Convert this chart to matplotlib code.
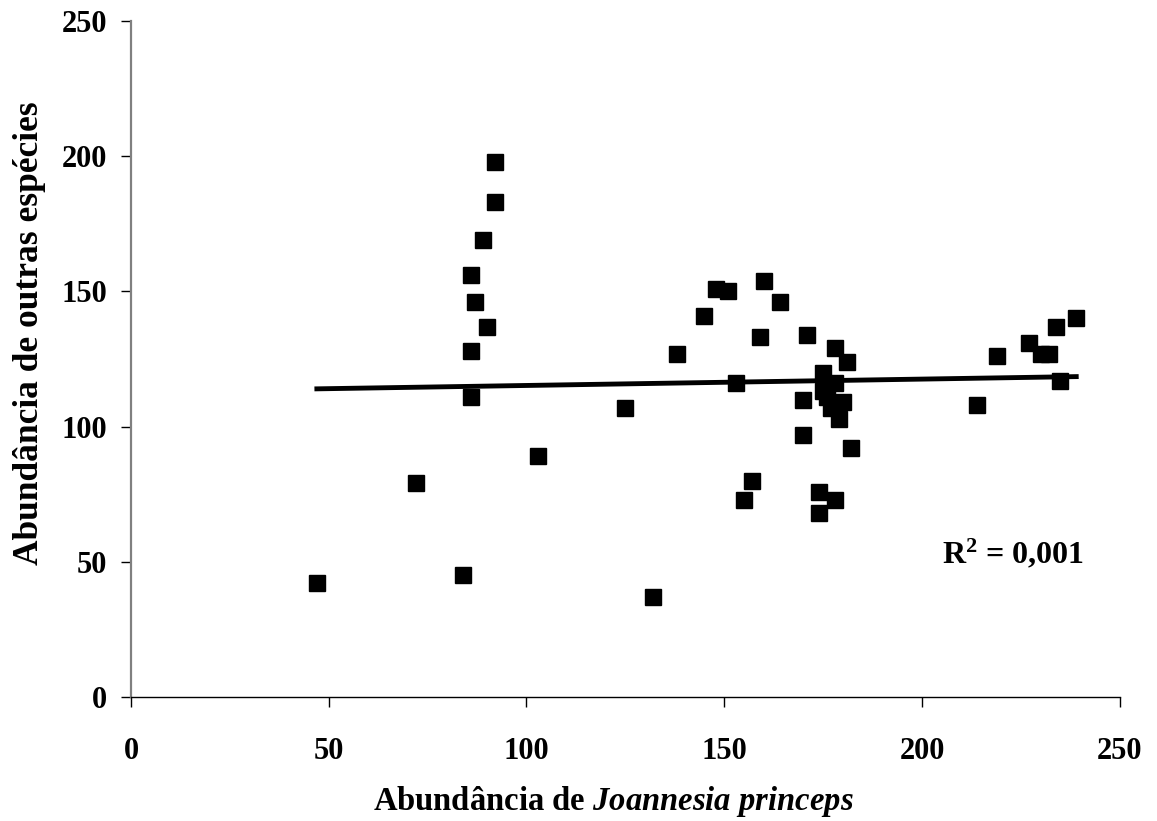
import numpy as np
import matplotlib
matplotlib.use("Agg")
import matplotlib.pyplot as plt

plt.rcParams['font.family'] = ['Liberation Serif', 'DejaVu Serif']
plt.rcParams['mathtext.fontset'] = 'custom'
plt.rcParams['mathtext.rm'] = 'Liberation Serif:bold'
plt.rcParams['mathtext.bf'] = 'Liberation Serif:bold'
plt.rcParams['mathtext.it'] = 'Liberation Serif:bold:italic'

# abundance of Joannesia princeps (x) vs abundance of other species (y)
joannesia = [47, 72, 84, 86, 86, 86, 87, 89, 90, 92, 92, 103, 125, 132, 138, 145,
             148, 151, 153, 155, 157, 159, 160, 164, 170, 170, 171, 174, 174, 175,
             175, 176, 177, 178, 178, 178, 179, 180, 181, 182, 214, 219, 227, 230,
             232, 234, 235, 239]
outras = [42, 79, 45, 156, 128, 111, 146, 169, 137, 198, 183, 89, 107, 37, 127, 141,
          151, 150, 116, 73, 80, 133, 154, 146, 110, 97, 134, 76, 68, 120,
          113, 111, 107, 129, 116, 73, 103, 109, 124, 92, 108, 126, 131, 127,
          127, 137, 117, 140]

x = np.array(joannesia)
y = np.array(outras)

# linear trend line
slope, intercept = np.polyfit(x, y, 1)
xfit = np.array([x.min(), x.max()])

fig = plt.figure(figsize=(11.57, 8.21), dpi=100)
ax = fig.add_axes([0.1132, 0.151, 0.8546, 0.8234])

ax.plot(x, y, 's', color='black', markersize=11)
ax.plot(xfit, slope * xfit + intercept, '-', color='black', linewidth=3.5)

ax.set_xlim(0, 250)
ax.set_ylim(0, 250)
ax.set_xticks([0, 50, 100, 150, 200, 250])
ax.set_yticks([0, 50, 100, 150, 200, 250])

for s in ['top', 'right']:
    ax.spines[s].set_visible(False)
ax.spines['left'].set_color('#808080')
ax.spines['left'].set_linewidth(1.6)
ax.spines['bottom'].set_color('black')
ax.spines['bottom'].set_linewidth(1.0)

ax.tick_params(axis='x', direction='out', length=7, width=1, pad=22, labelsize=22)
ax.tick_params(axis='y', direction='out', length=7, width=1, pad=10, labelsize=22)
for lab in ax.get_xticklabels() + ax.get_yticklabels():
    lab.set_fontweight('bold')

ax.set_xlabel(r'Abundância de $\mathit{Joannesia\ princeps}$', fontsize=23.5,
              fontweight='bold', labelpad=13)
ax.set_ylabel('Abundância de outras espécies', fontsize=25.5, fontweight='bold',
              labelpad=11)
ax.xaxis.label.set_x(0.488)
ax.yaxis.label.set_y(0.538)

ax.text(223, 53, r'R$^2$ = 0,001', fontsize=23, fontweight='bold',
        ha='center', va='center')

fig.savefig('out.png', dpi=100)
